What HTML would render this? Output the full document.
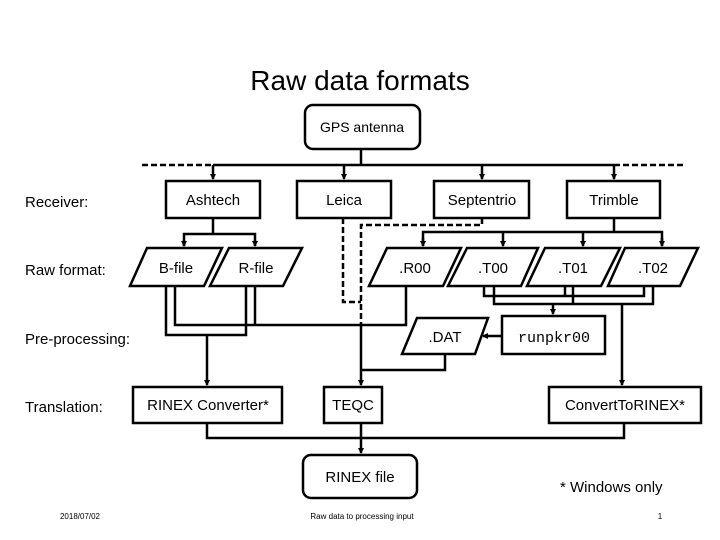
<!DOCTYPE html>
<html><head><meta charset="utf-8"><style>
html,body{margin:0;padding:0;background:#fff;}
svg{display:block;}
text{font-family:"Liberation Sans",sans-serif;fill:#000;}
</style></head><body>
<svg width="720" height="540" viewBox="0 0 720 540" xmlns="http://www.w3.org/2000/svg">
<defs><marker id="a" markerWidth="6" markerHeight="6" refX="5" refY="3" orient="auto" markerUnits="userSpaceOnUse"><path d="M0,0 L6,3 L0,6 z" fill="#000"/></marker></defs>
<text x="360" y="90" font-size="28" text-anchor="middle">Raw data formats</text>
<g font-size="15">
<text x="25" y="207">Receiver:</text>
<text x="25" y="275">Raw format:</text>
<text x="25" y="344">Pre-processing:</text>
<text x="25" y="412">Translation:</text>
</g>
<g fill="none" stroke="#000" stroke-width="2.5">
<rect x="305" y="105" width="115" height="44" rx="8"/>
<line x1="361" y1="149" x2="361" y2="165"/>
<line x1="213" y1="165" x2="614" y2="165"/>
<line x1="142" y1="165" x2="213" y2="165" stroke-dasharray="6,3"/>
<line x1="614" y1="165" x2="683" y2="165" stroke-dasharray="6,3"/>
<line x1="213" y1="165" x2="213" y2="179" marker-end="url(#a)"/>
<line x1="344" y1="165" x2="344" y2="179" marker-end="url(#a)"/>
<line x1="482" y1="165" x2="482" y2="179" marker-end="url(#a)"/>
<line x1="614" y1="165" x2="614" y2="179" marker-end="url(#a)"/>
<rect x="166" y="181" width="94" height="37"/>
<rect x="297" y="181" width="94" height="37"/>
<rect x="434" y="181" width="95" height="37"/>
<rect x="567" y="181" width="93" height="37"/>
<polyline points="213,218 213,234"/>
<polyline points="184,246 184,234 255,234 255,246"/>
<line x1="184" y1="240" x2="184" y2="246" marker-end="url(#a)"/>
<line x1="255" y1="240" x2="255" y2="246" marker-end="url(#a)"/>
<polyline points="614,218 614,232"/>
<polyline points="423,246 423,232 662,232 662,246"/>
<line x1="423" y1="238" x2="423" y2="246" marker-end="url(#a)"/>
<line x1="503" y1="232" x2="503" y2="246" marker-end="url(#a)"/>
<line x1="583" y1="232" x2="583" y2="246" marker-end="url(#a)"/>
<line x1="662" y1="238" x2="662" y2="246" marker-end="url(#a)"/>
<polygon points="147,248 222,248 204,286 130,286"/>
<polygon points="229,248 302,248 283,286 210,286"/>
<polygon points="387,248 461,248 443,286 369,286"/>
<polygon points="467,248 538,248 521,286 448,286"/>
<polygon points="545,248 620,248 601,286 527,286"/>
<polygon points="625,248 698,248 680,286 608,286"/>
<polyline points="343,218 343,302 361,302" stroke-dasharray="6,3"/>
<polyline points="482,218 482,225 361,225 361,323" stroke-dasharray="6,3"/>
<line x1="361" y1="323" x2="361" y2="385" marker-end="url(#a)"/>
<polyline points="166,286 166,335 246,335 246,286"/>
<polyline points="175,286 175,325 406,325 406,286"/>
<line x1="255" y1="286" x2="255" y2="325"/>
<line x1="207" y1="335" x2="207" y2="385" marker-end="url(#a)"/>
<polyline points="484,286 484,296 644,296 644,286"/>
<line x1="565" y1="286" x2="565" y2="296"/>
<polyline points="494,286 494,304 653,304 653,286"/>
<line x1="573" y1="286" x2="573" y2="304"/>
<line x1="553" y1="304" x2="553" y2="314" marker-end="url(#a)"/>
<line x1="622" y1="304" x2="622" y2="385" marker-end="url(#a)"/>
<rect x="502" y="316" width="103" height="38"/>
<polygon points="417,318 488,318 475,354 402,354"/>
<line x1="502" y1="336" x2="483" y2="336" marker-end="url(#a)"/>
<polyline points="445,354 445,370 361,370"/>
<rect x="133" y="387" width="149" height="36"/>
<rect x="324" y="387" width="58" height="36"/>
<rect x="549" y="387" width="152" height="36"/>
<polyline points="207,423 207,438 624,438 624,423"/>
<line x1="361" y1="423" x2="361" y2="453" marker-end="url(#a)"/>
<rect x="303" y="455" width="114" height="43" rx="8"/>
</g>
<g font-size="15" text-anchor="middle">
<text x="362" y="132" font-size="14">GPS antenna</text>
<text x="213" y="205">Ashtech</text>
<text x="344" y="205">Leica</text>
<text x="482" y="205">Septentrio</text>
<text x="614" y="205">Trimble</text>
<text x="176" y="273">B-file</text>
<text x="256" y="273">R-file</text>
<text x="415" y="273">.R00</text>
<text x="493" y="273">.T00</text>
<text x="573" y="273">.T01</text>
<text x="653" y="273">.T02</text>
<text x="445" y="342">.DAT</text>
<text x="554" y="342" style="font-family:'Liberation Mono',monospace">runpkr00</text>
<text x="208" y="410">RINEX Converter*</text>
<text x="353" y="410">TEQC</text>
<text x="625" y="410">ConvertToRINEX*</text>
<text x="360" y="482">RINEX file</text>
</g>
<text x="560" y="492" font-size="15">* Windows only</text>
<text x="80" y="519" font-size="8" text-anchor="middle" fill="#666">2018/07/02</text>
<text x="362" y="519" font-size="8" text-anchor="middle" fill="#666">Raw data to processing input</text>
<text x="660" y="519" font-size="8" text-anchor="middle" fill="#666">1</text>
</svg>
</body></html>
